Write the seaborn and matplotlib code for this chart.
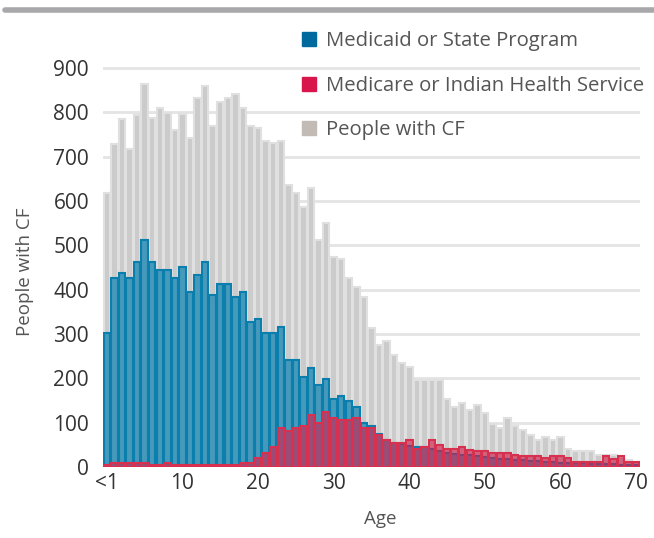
import pandas as pd
import matplotlib.pyplot as plt
import seaborn as sns
from matplotlib.patches import Patch

# ages 0 (<1) .. 70
ages = list(range(71))

people_cf = [617, 728, 784, 717, 794, 864, 788, 809, 798, 760,
             796, 741, 833, 858, 770, 822, 833, 840, 809, 770,
             764, 736, 730, 735, 636, 617, 587, 629, 512, 550,
             474, 469, 426, 407, 383, 313, 276, 285, 253, 234,
             226, 196, 196, 196, 196, 153, 136, 145, 129, 140,
             121, 97, 87, 110, 93, 83, 72, 61, 67, 61,
             67, 40, 36, 36, 36, 28, 28, 26, 23, 15, 12]

medicaid = [302, 426, 438, 426, 463, 512, 463, 444, 444, 426,
            450, 395, 432, 463, 388, 413, 413, 383, 395, 328,
            333, 303, 303, 315, 241, 241, 204, 223, 185, 198,
            153, 160, 149, 136, 99, 92, 74, 62, 55, 52,
            48, 44, 44, 40, 36, 32, 30, 28, 26, 24,
            22, 20, 18, 17, 16, 15, 14, 13, 12, 11,
            10, 9, 8, 8, 7, 7, 6, 6, 5, 5, 4]

medicare = [5, 8, 10, 10, 10, 10, 5, 5, 10, 5,
            5, 5, 5, 5, 5, 5, 5, 5, 10, 10,
            20, 32, 45, 87, 82, 87, 92, 117, 99, 123,
            111, 106, 106, 111, 87, 87, 72, 61, 55, 55,
            61, 40, 44, 61, 50, 40, 40, 44, 38, 37,
            37, 31, 31, 31, 27, 25, 25, 25, 20, 25,
            25, 20, 12, 12, 12, 12, 25, 19, 25, 12, 12]

tick_ages = [0, 10, 20, 30, 40, 50, 60, 70]
tick_labels = ["<1", "10", "20", "30", "40", "50", "60", "70"]
series_labels = ["Medicaid or State Program", "Medicare or Indian Health Service", "People with CF"]

df = pd.DataFrame({"age": ages, "people": people_cf,
                   "medicaid": medicaid, "medicare": medicare})

sns.set_style("white")
plt.rcParams['font.family'] = ['Open Sans', 'DejaVu Sans']

fig = plt.figure(figsize=(6.54, 5.38), dpi=100)
ax = fig.add_axes([103/654, 71/538, 537/654, (467-59)/538])

sns.barplot(data=df, x="age", y="people", order=ages, color="#cbcbcb",
            edgecolor="#e0e0e0", linewidth=1.5, width=0.85, saturation=1, ax=ax)
sns.barplot(data=df, x="age", y="medicaid", order=ages, color="#4599bb",
            edgecolor="#0a7fae", linewidth=1.5, width=0.85, saturation=1, ax=ax)
sns.barplot(data=df, x="age", y="medicare", order=ages, color="#d41c4a",
            edgecolor="#d7314f", linewidth=1.5, width=0.85, saturation=1, ax=ax)
for bar in ax.containers[2]:
    bar.set_facecolor((0.83, 0.11, 0.29, 0.6))

ax.set_ylim(0, 920)
ax.set_xlim(-0.5, 70.5)
ax.set_yticks(range(0, 1000, 100))
ax.set_xticks(tick_ages)
ax.set_xticklabels(tick_labels)
ax.yaxis.grid(True, color="#e4e4e4", linewidth=2)
ax.set_axisbelow(True)
sns.despine(ax=ax, left=True, bottom=True)
ax.tick_params(length=0, labelsize=15, colors="#333333")
ax.tick_params(axis="y", pad=10)
ax.tick_params(axis="x", pad=4)

ax.set_xlabel("Age", fontsize=13.5, color="#555555")
ax.set_ylabel("People with CF", fontsize=13.5, color="#555555")
ax.xaxis.set_label_coords(0.516, -0.105)
ax.yaxis.set_label_coords(-0.128, 0.478)

handles = [Patch(color="#006a9e"), Patch(color="#d9164b"), Patch(color="#c2bab5")]
fig.legend(handles, series_labels, loc="upper left", bbox_to_anchor=(302/654, 1 - 31/538),
           frameon=False, fontsize=14.6, handlelength=0.7, handleheight=0.7,
           handletextpad=0.5, labelspacing=1.22, borderpad=0, borderaxespad=0,
           labelcolor="#555555")

# grey rule across the top
fig.add_artist(plt.Line2D([5/654, 1], [1 - 10/538, 1 - 10/538], color="#a8a8aa",
                          linewidth=4, transform=fig.transFigure))

plt.savefig("out.png", dpi=100)
